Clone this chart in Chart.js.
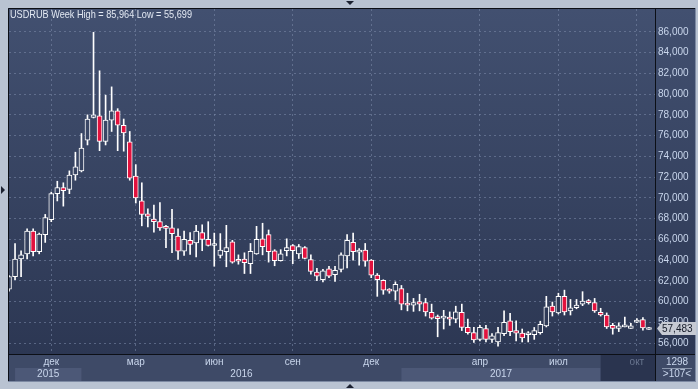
<!DOCTYPE html>
<html>
<head>
<meta charset="utf-8">
<script src="https://cdn.jsdelivr.net/npm/chart.js@4.4.0/dist/chart.umd.min.js"></script>
<style>
  html, body { margin: 0; padding: 0; background: #b9c3d2; }
  #wrap { width: 698px; height: 389px; }
</style>
</head>
<body>
<div id="wrap"><canvas id="chart" width="698" height="389"></canvas></div>
<script>
// weekly USDRUB candles, one entry per week
const opens = [
  61.2, 62.4, 64.1, 64.6, 66.8, 64.8, 66.45, 67.9, 70.4, 71.0,
  70.8, 72.2, 72.6, 75.55, 77.75, 77.9, 75.45, 77.5, 78.4, 77.0,
  75.4, 72.1, 69.7, 68.45, 67.95, 67.7, 67.1, 67.1, 66.3, 64.85,
  65.9, 65.65, 66.65, 66.0, 65.4, 64.45, 64.8, 65.75, 63.92, 64.1,
  63.65, 64.6, 66.05, 66.45, 64.9, 63.95, 64.9, 65.4, 64.6, 65.2,
  64.05, 62.85, 62.1, 63.15, 62.6, 63.1, 64.4, 65.7, 64.75, 64.95,
  64.0, 62.55, 62.05, 61.05, 61.0, 61.25, 59.7, 59.65, 60.0, 59.9,
  58.95, 58.4, 58.4, 58.45, 58.3, 58.95, 57.5, 57.0, 56.35, 57.4,
  56.35, 56.1, 56.9, 58.15, 57.2, 56.95, 56.8, 56.8, 57.0, 57.65,
  59.55, 58.9, 60.5, 59.1, 59.4, 59.75, 60.05, 59.9, 58.95, 58.7,
  57.7, 57.4, 57.55, 57.4, 58.0, 58.25, 57.3
];
const highs = [
  62.5, 65.6, 64.9, 67.0, 67.0, 66.6, 68.4, 70.55, 71.6, 71.45,
  72.6, 74.4, 76.2, 78.0, 85.964, 82.25, 79.9, 80.7, 78.6, 77.6,
  76.4, 73.2, 71.45, 68.95, 69.3, 69.55, 67.35, 68.9, 67.0, 66.8,
  66.65, 67.35, 67.4, 67.7, 66.6, 66.55, 67.35, 65.9, 64.5, 64.7,
  65.6, 67.25, 67.55, 66.9, 65.0, 65.0, 66.05, 65.5, 65.5, 65.3,
  64.5, 63.2, 63.1, 63.4, 63.4, 64.7, 66.45, 66.6, 65.1, 65.6,
  64.05, 62.7, 62.1, 61.25, 61.9, 61.55, 60.8, 60.3, 60.7, 60.3,
  59.75, 58.7, 59.15, 59.0, 59.55, 59.75, 58.3, 57.5, 57.7, 57.7,
  56.9, 57.5, 59.1, 58.85, 58.15, 57.35, 57.1, 57.5, 58.1, 60.5,
  59.95, 60.8, 61.1, 60.2, 60.2, 60.95, 60.2, 60.3, 59.35, 58.9,
  57.9, 57.95, 58.5, 57.9, 58.35, 58.45, 57.5
];
const lows = [
  61.0, 62.1, 62.4, 64.1, 64.4, 64.6, 65.7, 67.7, 69.7, 69.2,
  70.4, 71.7, 72.5, 75.1, 77.7, 74.55, 75.1, 76.4, 74.55, 74.5,
  71.7, 69.5, 67.3, 67.2, 66.7, 66.85, 65.2, 64.7, 64.05, 64.45,
  64.55, 64.3, 64.9, 65.35, 63.4, 64.2, 63.35, 63.7, 63.6, 62.7,
  62.7, 64.55, 64.5, 63.8, 63.45, 63.9, 64.4, 63.65, 64.15, 64.1,
  62.65, 62.0, 61.9, 62.3, 61.95, 62.85, 63.25, 64.0, 63.5, 63.4,
  62.3, 60.5, 60.7, 60.8, 60.15, 59.2, 59.1, 59.05, 59.1, 58.6,
  58.3, 56.6, 57.35, 57.7, 57.95, 57.2, 56.85, 56.05, 56.2, 56.1,
  56.05, 55.699, 56.7, 56.7, 56.2, 56.1, 56.1, 56.35, 56.85, 57.55,
  58.6, 58.8, 58.7, 58.7, 59.3, 59.6, 59.75, 58.95, 58.6, 57.4,
  56.85, 57.1, 57.55, 57.4, 57.95, 57.25, 57.3
];
const closes = [
  62.4, 64.1, 64.5, 66.8, 64.8, 66.5, 68.1, 70.4, 71.0, 70.7,
  72.2, 73.0, 74.8, 77.6, 78.0, 75.45, 77.5, 78.4, 77.0, 76.25,
  71.9, 70.0, 68.4, 68.2, 67.7, 67.1, 67.05, 66.55, 64.85, 66.0,
  65.5, 66.8, 66.0, 65.4, 65.55, 64.95, 65.2, 63.8, 63.88, 63.75,
  64.85, 66.0, 65.3, 64.8, 63.95, 64.6, 65.2, 64.9, 65.3, 64.15,
  62.9, 62.45, 62.95, 62.45, 63.0, 64.5, 65.9, 64.8, 64.95, 63.9,
  62.55, 62.1, 61.1, 61.0, 61.65, 59.75, 59.65, 59.9, 59.75, 59.0,
  58.4, 58.35, 58.45, 58.3, 59.0, 57.5, 57.0, 56.3, 57.5, 56.35,
  56.7, 57.0, 58.0, 57.1, 56.95, 56.5, 56.95, 57.2, 57.8, 59.5,
  59.0, 60.5, 59.0, 59.4, 59.65, 60.05, 59.9, 59.1, 58.7, 57.55,
  57.4, 57.65, 57.7, 57.65, 58.2, 57.45, 57.483
];

const monthWeeks = [7, 21, 34, 47, 60, 78, 91, 104];
const monthLabels = ["дек", "мар", "июн", "сен", "дек", "апр", "июл", "окт"];
const yearLabels = ["2015", "2016", "2017"];
const yearEdges = [1, 12, 65, 98];
const priceTicks = [56, 58, 60, 62, 64, 66, 68, 70, 72, 74, 76, 78, 80, 82, 84, 86];

const RED = "#e2123e";
const weeks = opens.map((_, i) => i);

const fmt = (v, d) => v.toFixed(d).replace(".", ",");

let bgGrad = null;
function getGrad(chart) {
  const a = chart.chartArea;
  if (!a) return "#36425e";
  if (!bgGrad) {
    bgGrad = chart.ctx.createLinearGradient(0, a.top, 0, a.bottom);
    bgGrad.addColorStop(0, "#425070");
    bgGrad.addColorStop(1, "#2c3753");
  }
  return bgGrad;
}

const framePlugin = {
  id: "frame",
  beforeDraw(chart) {
    const { ctx, chartArea: a, scales } = chart;
    const x = scales.x;
    const right = 695;
    ctx.save();
    ctx.fillStyle = "#b9c3d2";
    ctx.fillRect(0, 0, chart.width, chart.height);

    // plot + price panel
    ctx.fillStyle = getGrad(chart);
    ctx.fillRect(a.left - 1, a.top - 1, right - a.left + 1, a.bottom - a.top + 1);

    // date band
    ctx.fillStyle = "#3e4a67";
    ctx.fillRect(a.left - 1, a.bottom, right - a.left + 1, 28);
    ctx.fillStyle = "#4c5877";
    ctx.fillRect(x.getPixelForValue(yearEdges[0]), a.bottom + 14, x.getPixelForValue(yearEdges[1]) - x.getPixelForValue(yearEdges[0]), 13);
    ctx.fillRect(x.getPixelForValue(yearEdges[2]), a.bottom + 14, x.getPixelForValue(yearEdges[3]) - x.getPixelForValue(yearEdges[2]), 13);
    ctx.fillStyle = "#2a344f";
    ctx.fillRect(x.getPixelForValue(yearEdges[3]), a.bottom + 1, a.right - x.getPixelForValue(yearEdges[3]), 26);

    // triangles on the frame
    ctx.fillStyle = "#1b2130";
    ctx.beginPath();
    ctx.moveTo(346, 1); ctx.lineTo(354, 1); ctx.lineTo(350, 5); ctx.fill();
    ctx.beginPath();
    ctx.moveTo(1, 186); ctx.lineTo(5, 190); ctx.lineTo(1, 194); ctx.fill();
    ctx.beginPath();
    ctx.moveTo(346, 388); ctx.lineTo(354, 388); ctx.lineTo(350, 384); ctx.fill();
    ctx.restore();
  },
  afterDraw(chart) {
    const { ctx, chartArea: a, scales } = chart;
    const x = scales.x, y = scales.y;
    ctx.save();
    // borders
    ctx.strokeStyle = "#0c0f16";
    ctx.lineWidth = 1;
    ctx.beginPath();
    ctx.moveTo(a.left - 0.5, a.bottom + 28); ctx.lineTo(a.left - 0.5, a.top - 0.5); ctx.lineTo(695.5, a.top - 0.5);
    ctx.moveTo(a.right + 0.5, a.top); ctx.lineTo(a.right + 0.5, a.bottom + 28);
    ctx.moveTo(a.left, a.bottom + 0.5); ctx.lineTo(695, a.bottom + 0.5);
    ctx.stroke();
    ctx.strokeStyle = "#7d8aa3";
    ctx.beginPath();
    ctx.moveTo(a.left - 1, a.bottom + 27.5); ctx.lineTo(695, a.bottom + 27.5);
    ctx.moveTo(695.5, a.top - 1); ctx.lineTo(695.5, a.bottom + 28);
    ctx.stroke();

    // title
    ctx.font = "10.5px 'Liberation Sans', Arial, sans-serif";
    ctx.fillStyle = "#e2e8f2";
    ctx.textBaseline = "middle";
    ctx.textAlign = "left";
    ctx.fillText("USDRUB Week High = " + fmt(Math.max(...highs), 3) + " Low = " + fmt(Math.min(...lows), 3), 10, 15, 182);

    // year labels
    ctx.font = "10px 'Liberation Sans', Arial, sans-serif";
    ctx.fillStyle = "#c9d6ec";
    ctx.textAlign = "center";
    yearLabels.forEach((lbl, i) => {
      const cx = (x.getPixelForValue(yearEdges[i]) + x.getPixelForValue(yearEdges[i + 1])) / 2;
      ctx.fillText(lbl, cx, a.bottom + 20.5);
    });

    // bottom right box
    ctx.fillText("1298", 677, a.bottom + 8);
    ctx.fillText(">" + opens.length + "<", 677, a.bottom + 20.5);
    ctx.strokeStyle = "#8a96ad";
    ctx.beginPath();
    ctx.moveTo(662, a.bottom + 14.5); ctx.lineTo(692, a.bottom + 14.5);
    ctx.stroke();

    // last price marker
    const last = closes[closes.length - 1];
    const py = Math.round(y.getPixelForValue(last)) + 0.5;
    ctx.fillStyle = "#c6cad3";
    ctx.beginPath();
    ctx.moveTo(a.right + 2, py);
    ctx.lineTo(a.right + 7, py - 6.5);
    ctx.lineTo(696, py - 6.5);
    ctx.lineTo(696, py + 6.5);
    ctx.lineTo(a.right + 7, py + 6.5);
    ctx.closePath();
    ctx.fill();
    ctx.fillStyle = "#141a28";
    ctx.textAlign = "left";
    ctx.font = "10px 'Liberation Sans', Arial, sans-serif";
    ctx.fillText(fmt(last, 3), a.right + 7, py + 0.5);
    ctx.restore();
  }
};

Chart.defaults.font.family = "'Liberation Sans', Arial, sans-serif";

new Chart(document.getElementById("chart"), {
  type: "bar",
  data: {
    datasets: [
      {
        label: "body",
        data: weeks.map(i => ({ x: i, y: [opens[i], closes[i]] })),
        backgroundColor: (c) => closes[c.dataIndex] < opens[c.dataIndex] ? RED : getGrad(c.chart),
        borderColor: "#ffffff",
        borderWidth: 1,
        borderSkipped: false,
        barThickness: 5,
        minBarLength: 2,
        grouped: false
      },
      {
        label: "wick",
        data: weeks.map(i => ({ x: i, y: [lows[i], highs[i]] })),
        backgroundColor: "#ffffff",
        borderWidth: 0,
        barThickness: 1,
        grouped: false
      }
    ]
  },
  options: {
    responsive: false,
    animation: false,
    layout: { padding: { left: 9, top: 8, right: 3, bottom: 7 } },
    plugins: { legend: { display: false }, tooltip: { enabled: false } },
    scales: {
      x: {
        type: "linear",
        offset: false,
        min: 0,
        max: opens.length,
        afterBuildTicks: (s) => { s.ticks = monthWeeks.map(v => ({ value: v })); },
        afterFit: (s) => { s.height = 28; },
        ticks: {
          autoSkip: false,
          maxRotation: 0,
          padding: 2,
          font: { size: 10 },
          color: (c) => c.index === monthLabels.length - 1 ? "#69758f" : "#c9d6ec",
          callback: (v) => monthLabels[monthWeeks.indexOf(v)]
        },
        grid: { offset: false, color: "rgba(125,140,172,0.55)", drawTicks: false },
        border: { display: false, dash: [2, 3] }
      },
      y: {
        position: "right",
        min: 54.94,
        max: 88.21,
        afterBuildTicks: (s) => { s.ticks = priceTicks.map(v => ({ value: v })); },
        afterFit: (s) => { s.width = 40; },
        ticks: {
          padding: 3,
          font: { size: 10 },
          color: "#c9d6ec",
          callback: (v) => fmt(v, 3)
        },
        grid: { color: "rgba(125,140,172,0.55)", drawTicks: false },
        border: { display: false, dash: [2, 3] }
      }
    }
  },
  plugins: [framePlugin]
});
</script>
</body>
</html>
